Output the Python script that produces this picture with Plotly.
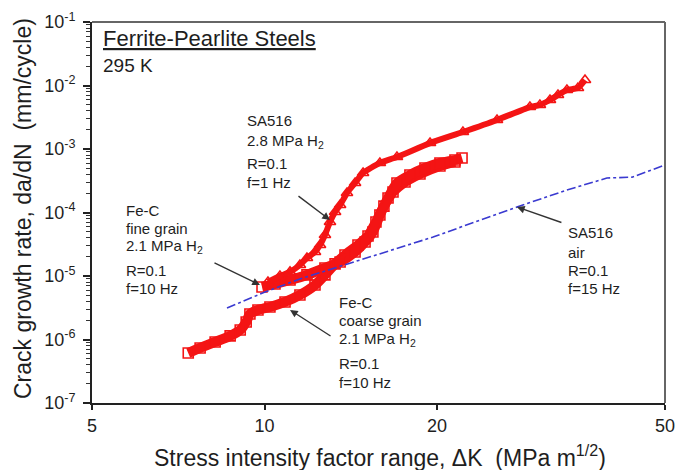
import numpy as np
import plotly.graph_objects as go

# ---------------- data ----------------
coarse_dk = [7.36, 7.72, 8.20, 8.71, 9.07, 9.29, 9.43, 9.74, 10.22, 10.86, 11.53, 12.25,
             12.75, 13.28, 13.82, 14.56, 15.16, 15.65, 16.16, 16.76, 17.59, 18.68, 20.24, 21.50]
coarse_rate = [6.12e-7, 7.35e-7, 9.15e-7, 1.14e-6, 1.41e-6, 1.89e-6, 2.52e-6, 2.92e-6, 3.25e-6,
               3.90e-6, 5.03e-6, 7.21e-6, 1.04e-5, 1.55e-5, 2.14e-5, 3.08e-5, 4.27e-5, 7.08e-5,
               1.26e-4, 2.10e-4, 3.02e-4, 4.04e-4, 5.40e-4, 6.24e-4]

fine_dk = [9.90, 10.43, 11.08, 11.86, 12.75, 13.55, 14.39, 14.98, 15.46, 15.90, 16.43,
           17.03, 17.94, 19.06, 20.24, 21.50, 22.12]
fine_rate = [6.71e-6, 7.48e-6, 8.65e-6, 1.04e-5, 1.34e-5, 1.66e-5, 2.39e-5, 3.43e-5, 4.93e-5,
             9.14e-5, 1.69e-4, 2.92e-4, 3.90e-4, 5.02e-4, 6.03e-4, 6.71e-4, 7.21e-4]

sa516_h2_dk = [10.14, 10.64, 11.08, 11.53, 11.86, 12.25, 12.50, 12.75, 13.01, 13.28, 13.55,
               13.93, 14.39, 14.86, 15.90, 17.03, 19.45, 22.2, 25.46, 29.06, 30.25, 31.50,
               32.53, 33.72, 35.25, 36.26]
sa516_h2_rate = [8.05e-6, 1.0e-5, 1.16e-5, 1.49e-5, 1.92e-5, 2.39e-5, 3.08e-5, 4.43e-5, 7.08e-5,
                 1.02e-4, 1.31e-4, 2.03e-4, 2.92e-4, 4.19e-4, 6.03e-4, 7.48e-4, 1.24e-3, 1.85e-3,
                 2.86e-3, 4.58e-3, 4.93e-3, 5.91e-3, 7.08e-3, 8.49e-3, 9.14e-3, 1.22e-2]

air_dk = [8.60, 10.02, 11.53, 14.68, 19.69, 23.3, 27.58, 33.72, 39.6, 43.8, 50.0]
air_rate = [3.13e-6, 5.60e-6, 8.98e-6, 1.79e-5, 4.11e-5, 7.08e-5, 1.22e-4, 2.26e-4, 3.49e-4,
            3.60e-4, 5.60e-4]

x_tickvals = [5, 10, 20, 50]
x_ticktext = ["5", "10", "20", "50"]
y_exponents = [-7, -6, -5, -4, -3, -2, -1]

# ---------------- figure ----------------
W, H = 675, 470
L, R, T, B = 92, 665, 22, 403
RED = "#f41414"
FONT = "Liberation Sans, Arial, sans-serif"
TXT = "#1e1e1e"

fig = go.Figure()

# red bands (thick line under the open markers)
for xs, ys, sym, lw in [(coarse_dk, coarse_rate, "square-open", 10),
                        (fine_dk, fine_rate, "square-open", 10),
                        (sa516_h2_dk, sa516_h2_rate, "triangle-up-open", 6)]:
    fig.add_trace(go.Scatter(x=xs, y=ys, mode="lines",
                             line=dict(color=RED, width=lw, shape="spline", smoothing=0.6),
                             showlegend=False, hoverinfo="skip"))
    fig.add_trace(go.Scatter(x=xs, y=ys, mode="markers",
                             marker=dict(symbol=sym, size=10, color=RED,
                                         line=dict(color=RED, width=1.6)),
                             showlegend=False))

fig.add_trace(go.Scatter(x=air_dk, y=air_rate, mode="lines",
                         line=dict(color="#3a3ad0", width=1.6, dash="dashdot"),
                         showlegend=False))

minor_vals = [k * 10.0 ** e for e in y_exponents[:-1] for k in range(2, 10)]

eps = 1e-4
fig.update_xaxes(type="log", range=[np.log10(5) - eps, np.log10(50) + eps],
                 tickmode="array", tickvals=x_tickvals, ticktext=x_ticktext,
                 ticks="outside", ticklen=5, tickwidth=1.5, tickcolor="#222",
                 showline=True, linecolor="#222", linewidth=2, mirror=False,
                 showgrid=False, zeroline=False, ticklabeloverflow="allow",
                 automargin=False,
                 tickfont=dict(family=FONT, size=18, color=TXT))
fig.update_yaxes(type="log", range=[-7, -1],
                 tickmode="array", tickvals=[10.0 ** e for e in y_exponents],
                 ticktext=["10<sup>%d</sup>" % e for e in y_exponents],
                 ticks="outside", ticklen=7, tickwidth=1.5, tickcolor="#222",
                 minor=dict(ticks="outside", ticklen=4, tickwidth=1, tickcolor="#333",
                            tickmode="array", tickvals=minor_vals, showgrid=False),
                 showline=True, linecolor="#222", linewidth=2, mirror=False,
                 showgrid=False, zeroline=False, ticklabelstandoff=4, automargin=False,
                 tickfont=dict(family=FONT, size=18, color=TXT))

# top/right frame in grey
fig.add_shape(type="line", xref="paper", yref="paper", x0=0, x1=1, y0=1, y1=1,
              line=dict(color="#666", width=2))
fig.add_shape(type="line", xref="paper", yref="paper", x0=1, x1=1, y0=0, y1=1,
              line=dict(color="#666", width=2))


def pp(xp, yp):
    return (xp - L) / (R - L), (B - yp) / (B - T)


def label(text, xp, yp, size=15, xanchor="left"):
    x, y = pp(xp, yp)
    fig.add_annotation(text=text, x=x, y=y, xref="paper", yref="paper",
                       xanchor=xanchor, yanchor="middle", showarrow=False,
                       font=dict(family=FONT, size=size, color=TXT))


label("<u>Ferrite-Pearlite Steels</u>", 101, 38, size=22)
label("295 K", 101, 65, size=19)

for t, yp in [("SA516", 120), ("2.8 MPa H<sub>2</sub>", 141), ("R=0.1", 163), ("f=1 Hz", 182)]:
    label(t, 245, yp)
for t, yp in [("Fe-C", 210), ("fine grain", 228), ("2.1 MPa H<sub>2</sub>", 246),
              ("R=0.1", 270), ("f=10 Hz", 288)]:
    label(t, 124, yp)
for t, yp in [("Fe-C", 302), ("coarse grain", 320), ("2.1 MPa H<sub>2</sub>", 339),
              ("R=0.1", 363), ("f=10 Hz", 382)]:
    label(t, 337, yp)
for t, yp in [("SA516", 232), ("air", 252), ("R=0.1", 270), ("f=15 Hz", 288)]:
    label(t, 566, yp)

# arrows (head at a point on the curves, tail offset in pixels)
for hx, hy, ax, ay in [(13.01, 7.62e-5, -33, -25),
                       (9.82, 7.21e-6, -47, -23),
                       (11.08, 2.92e-6, 42, 27),
                       (27.58, 1.22e-4, 46, 16)]:
    fig.add_annotation(x=np.log10(hx), y=np.log10(hy), xref="x", yref="y",
                       ax=ax, ay=ay, axref="pixel", ayref="pixel", text="",
                       showarrow=True, arrowhead=2, arrowsize=1.1, arrowwidth=1.4,
                       arrowcolor="#333")

# axis titles
x, y = pp(380, 456)
fig.add_annotation(text="Stress intensity factor range, \u0394K  (MPa m<sup>1/2</sup>)",
                   x=x, y=y, xref="paper", yref="paper", xanchor="center", yanchor="middle",
                   showarrow=False, font=dict(family=FONT, size=23, color=TXT))
x, y = pp(23, 209)
fig.add_annotation(text="Crack growth rate, da/dN  (mm/cycle)", textangle=-90,
                   x=x, y=y, xref="paper", yref="paper", xanchor="center", yanchor="middle",
                   showarrow=False, font=dict(family=FONT, size=23, color=TXT))

fig.update_layout(width=W, height=H, margin=dict(l=L, r=W - R, t=T, b=H - B, autoexpand=False),
                  paper_bgcolor="white", plot_bgcolor="white", showlegend=False,
                  font=dict(family=FONT, color=TXT))

fig.write_html("out.html", config={"displayModeBar": False},
               post_script="document.body.style.margin='0';document.body.style.padding='0';")
